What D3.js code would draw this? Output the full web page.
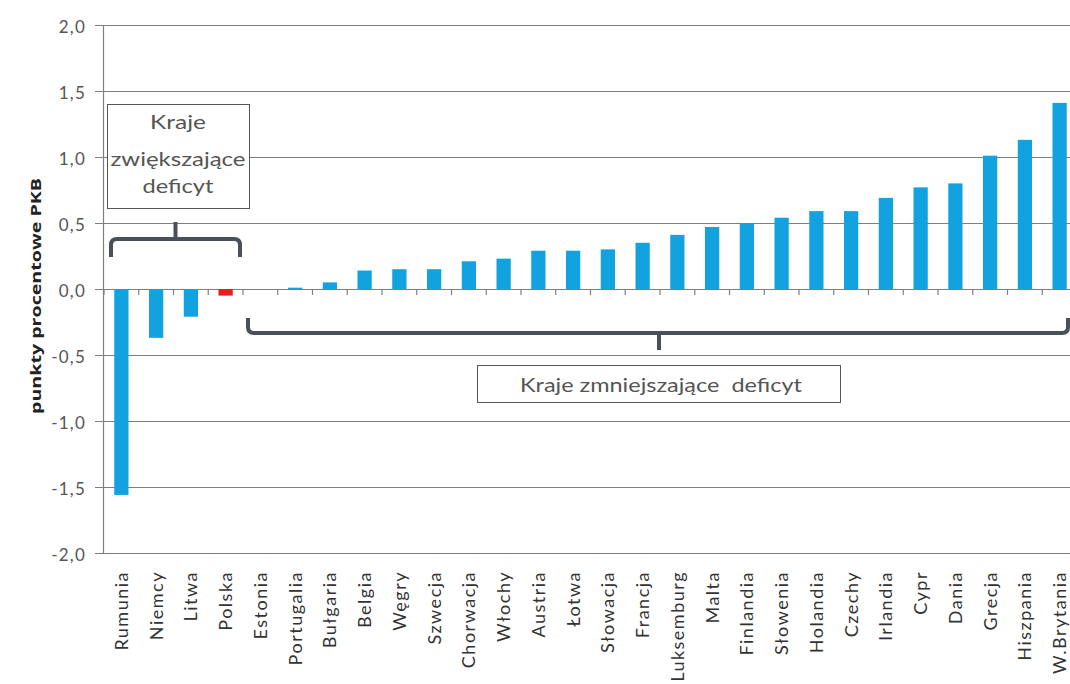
<!DOCTYPE html>
<html><head><meta charset="utf-8">
<script src="https://cdn.jsdelivr.net/npm/d3@7"></script>
<style>body{margin:0;background:#fff;} svg{display:block;}</style>
</head><body>
<svg id="c" width="1070" height="684"></svg>
<script>
const categories = ["Rumunia","Niemcy","Litwa","Polska","Estonia","Portugalia","Bułgaria","Belgia","Węgry","Szwecja","Chorwacja","Włochy","Austria","Łotwa","Słowacja","Francja","Luksemburg","Malta","Finlandia","Słowenia","Holandia","Czechy","Irlandia","Cypr","Dania","Grecja","Hiszpania","W.Brytania"];
const values = [-1.56,-0.37,-0.21,-0.05,0.0,0.01,0.05,0.14,0.15,0.15,0.21,0.23,0.29,0.29,0.30,0.35,0.41,0.47,0.50,0.54,0.59,0.59,0.69,0.77,0.80,1.01,1.13,1.41];
const highlight = "Polska";
const yTicks = [-2,-1.5,-1,-0.5,0,0.5,1,1.5,2];
const yTitle = "punkty procentowe PKB";
const boxLeft = ["Kraje","zwiększające","deficyt"];
const boxRight = "Kraje zmniejszające  deficyt";

const svg = d3.select("#c");
const font = "Lato, 'Open Sans', sans-serif";
const x = d3.scaleBand().domain(categories).range([104, 1077]).paddingInner(0.59).paddingOuter(0.295);
const y = d3.scaleLinear().domain([-2, 2]).range([553, 25]);

// gridlines
svg.append("g").selectAll("line").data(yTicks).join("line")
  .attr("x1", 95).attr("x2", 1070)
  .attr("y1", d => Math.round(y(d)) + 0.5).attr("y2", d => Math.round(y(d)) + 0.5)
  .attr("stroke", "#7f7f7f").attr("stroke-width", 1.2);

// y labels
svg.append("g").selectAll("text").data(yTicks).join("text")
  .attr("x", 86).attr("y", d => y(d) + 2).attr("dy", "0.35em")
  .attr("text-anchor", "end").attr("font-family", font).attr("font-size", 17)
  .attr("letter-spacing", 1.2).attr("fill", "#555")
  .text(d => d3.format(".1f")(d).replace(".", ",").replace("−", "-"));

// left axis
svg.append("line").attr("x1", 103.5).attr("x2", 103.5).attr("y1", 25).attr("y2", 553)
  .attr("stroke", "#7f7f7f").attr("stroke-width", 1.2);

// bars
svg.append("g").selectAll("rect").data(values).join("rect")
  .attr("x", (d, i) => x(categories[i]))
  .attr("width", x.bandwidth())
  .attr("y", d => y(Math.max(0, d)))
  .attr("height", d => Math.abs(y(d) - y(0)))
  .attr("fill", (d, i) => categories[i] === highlight ? "#e3201c" : "#12a2e0");

// category ticks on zero line
const step = x.step();
svg.append("g").selectAll("line").data(d3.range(categories.length + 1)).join("line")
  .attr("x1", i => 104 + i * step).attr("x2", i => 104 + i * step)
  .attr("y1", y(0)).attr("y2", y(0) + 6)
  .attr("stroke", "#7f7f7f").attr("stroke-width", 1.2);

// x labels
svg.append("g").selectAll("text").data(categories).join("text")
  .attr("transform", d => `translate(${x(d) + x.bandwidth() / 2},571) rotate(-90)`)
  .attr("dy", "0.36em")
  .attr("text-anchor", "end").attr("font-family", font).attr("font-size", 18)
  .attr("letter-spacing", 1.5).attr("fill", "#333")
  .text(d => d);

// y title
svg.append("text").attr("transform", "translate(41,296) rotate(-90)")
  .attr("text-anchor", "middle").attr("font-family", "'Open Sans', sans-serif")
  .attr("font-weight", "bold").attr("font-size", 15).attr("fill", "#222")
  .attr("textLength", 236).attr("lengthAdjust", "spacingAndGlyphs")
  .text(yTitle);

// left bracket
const bc = "#4a5058";
const lb = d3.path();
lb.moveTo(111, 257); lb.lineTo(111, 245); lb.quadraticCurveTo(111, 239, 117, 239);
lb.lineTo(234, 239); lb.quadraticCurveTo(240, 239, 240, 245); lb.lineTo(240, 257);
svg.append("path").attr("d", lb.toString()).attr("fill", "none").attr("stroke", bc).attr("stroke-width", 4);
svg.append("line").attr("x1", 175.5).attr("x2", 175.5).attr("y1", 239).attr("y2", 222).attr("stroke", bc).attr("stroke-width", 4);

// left box
svg.append("rect").attr("x", 107.5).attr("y", 104.5).attr("width", 142).attr("height", 104)
  .attr("fill", "#fff").attr("stroke", "#555").attr("stroke-width", 1);
const leftLens = [56, 135, 71];
const leftYs = [129, 166, 193];
svg.append("g").selectAll("text").data(boxLeft).join("text")
  .attr("x", 178).attr("y", (d, i) => leftYs[i])
  .attr("text-anchor", "middle").attr("font-family", font).attr("font-size", 19).attr("fill", "#555")
  .attr("textLength", (d, i) => leftLens[i]).attr("lengthAdjust", "spacingAndGlyphs")
  .text(d => d);

// right bracket
const rb = d3.path();
rb.moveTo(248, 318); rb.lineTo(248, 327); rb.quadraticCurveTo(248, 333, 254, 333);
rb.lineTo(1062, 333); rb.quadraticCurveTo(1068, 333, 1068, 327); rb.lineTo(1068, 318);
svg.append("path").attr("d", rb.toString()).attr("fill", "none").attr("stroke", bc).attr("stroke-width", 4);
svg.append("line").attr("x1", 659).attr("x2", 659).attr("y1", 333).attr("y2", 350).attr("stroke", bc).attr("stroke-width", 4);

// right box
svg.append("rect").attr("x", 477.5).attr("y", 365.5).attr("width", 363).attr("height", 37)
  .attr("fill", "#fff").attr("stroke", "#555").attr("stroke-width", 1);
svg.append("text").attr("x", 661).attr("y", 392)
  .attr("text-anchor", "middle").attr("font-family", font).attr("font-size", 19).attr("fill", "#555")
  .attr("textLength", 282).attr("lengthAdjust", "spacingAndGlyphs")
  .style("white-space", "pre")
  .text(boxRight);
</script>
</body></html>
